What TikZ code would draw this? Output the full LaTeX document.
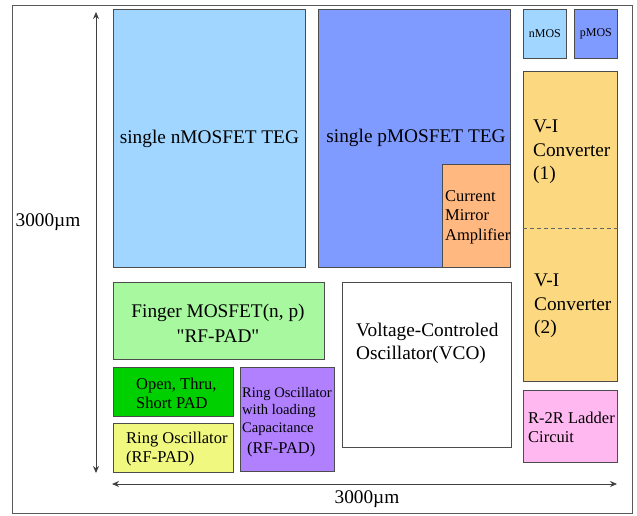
\documentclass[tikz,border=0pt]{standalone}
\usepackage{fontspec}
\setmainfont{Liberation Serif}
\usetikzlibrary{arrows.meta}
\definecolor{nblue}{RGB}{160,214,255}
\definecolor{pblue}{RGB}{128,155,255}
\definecolor{mirrorc}{RGB}{255,184,128}
\definecolor{convc}{RGB}{252,216,128}
\definecolor{ladderc}{RGB}{255,184,240}
\definecolor{fingerc}{RGB}{168,248,160}
\definecolor{padc}{RGB}{0,208,0}
\definecolor{ringc}{RGB}{240,248,128}
\definecolor{capc}{RGB}{176,128,255}
\tikzset{
 block/.style={draw=black!70,line width=0.8pt,inner sep=0pt,anchor=north west},
 dimarrow/.style={{Stealth[length=7pt,width=6pt]}-{Stealth[length=7pt,width=6pt]},line width=0.8pt,black!75},
 lbl/.style={inner sep=0pt,align=left,anchor=west},
 txtbig/.style={font=\fontsize{19.3}{23.5}\selectfont},
 txtmid/.style={font=\fontsize{16.5}{19.5}\selectfont},
 txtsmall/.style={font=\fontsize{14.6}{17.5}\selectfont},
 txttiny/.style={font=\fontsize{12}{14}\selectfont}
}
\begin{document}
\begin{tikzpicture}[x=1pt,y=-1pt]
 \useasboundingbox (0,0) rectangle (637,515);
 % outer frame
 \draw[black!65,line width=0.8pt] (12,5) rectangle (632,513);
 % blocks of the chip
 \node[block,fill=nblue,minimum width=192pt,minimum height=258pt] (nteg) at (113,9) {};
 \node[block,fill=pblue,minimum width=192pt,minimum height=258pt] (pteg) at (318,9) {};
 \node[block,fill=mirrorc,minimum width=68pt,minimum height=103pt] (mirror) at (442,164) {};
 \node[block,fill=nblue,minimum width=43pt,minimum height=49pt] (nmos) at (523,9) {};
 \node[block,fill=pblue,minimum width=43pt,minimum height=49pt] (pmos) at (574,9) {};
 \node[block,fill=convc,minimum width=94pt,minimum height=310pt] (conv) at (523,71) {};
 \node[block,fill=ladderc,minimum width=94pt,minimum height=72pt] (ladder) at (523,390) {};
 \node[block,fill=white,minimum width=169pt,minimum height=165pt] (vco) at (342,282) {};
 \node[block,fill=fingerc,minimum width=211pt,minimum height=77pt] (finger) at (113,282) {};
 \node[block,fill=padc,minimum width=120pt,minimum height=49pt] (pad) at (113,367) {};
 \node[block,fill=ringc,minimum width=120pt,minimum height=49pt] (ring) at (113,423) {};
 \node[block,fill=capc,minimum width=94pt,minimum height=104pt] (ringcap) at (240,367) {};
 % split of the converter
 \coordinate (convmid) at (0,228);
 \draw[black!60,line width=0.8pt,dash pattern=on 4pt off 3pt] (conv.west |- convmid) -- (conv.east |- convmid);
 % texts
 \node[txtbig] (ntegtxt) at (nteg.center) {single nMOSFET TEG};
 \node[txtbig] (ptegtxt) at (416,138) {single pMOSFET TEG};
 \node[txtmid,lbl] (mirrortxt) at (445,217) {Current\\Mirror\\Amplifier};
 \node[txttiny] (nmostxt) at (nmos.center) {nMOS};
 \node[txttiny] (pmostxt) at (pmos.center) {pMOS};
 \node[txtbig,lbl] (convatxt) at (533,152) {V-I\\Converter\\(1)};
 \node[txtbig,lbl] (convbtxt) at (534,306) {V-I\\Converter\\(2)};
 \node[txtbig,lbl] (vcotxt) at (356,343.5) {Voltage-Controled\\Oscillator(VCO)};
 \node[txtmid,lbl] (laddertxt) at (528,427.5) {R-2R Ladder\\Circuit};
 \node[align=center,font=\fontsize{19.3}{25}\selectfont] (fingertxt) at (218,323.5) {Finger MOSFET(n, p)\\\textquotedbl RF-PAD\textquotedbl};
 \node[txtmid,lbl] (padtxt) at (136,393.5) {Open, Thru,\\Short PAD};
 \node[txtmid,lbl] (ringtxt) at (126,449) {Ring Oscillator\\(RF-PAD)};
 \node[txtsmall,lbl] (ringcaptxt) at (242,411) {Ring Oscillator\\with loading\\Capacitance};
 \node[txtmid,lbl] (ringcappad) at (247,450) {(RF-PAD)};
 % dimensions
 \coordinate (vtop) at (96,12);
 \coordinate (vbot) at (96,473);
 \coordinate (hleft) at (112,484);
 \coordinate (hright) at (617,484);
 \draw[dimarrow] (vtop) -- (vbot);
 \draw[dimarrow] (hleft) -- (hright);
 \node[txtbig] (vdim) at (48,222) {3000µm};
 \node[txtbig] (hdim) at (367,499) {3000µm};
\end{tikzpicture}
\end{document}
